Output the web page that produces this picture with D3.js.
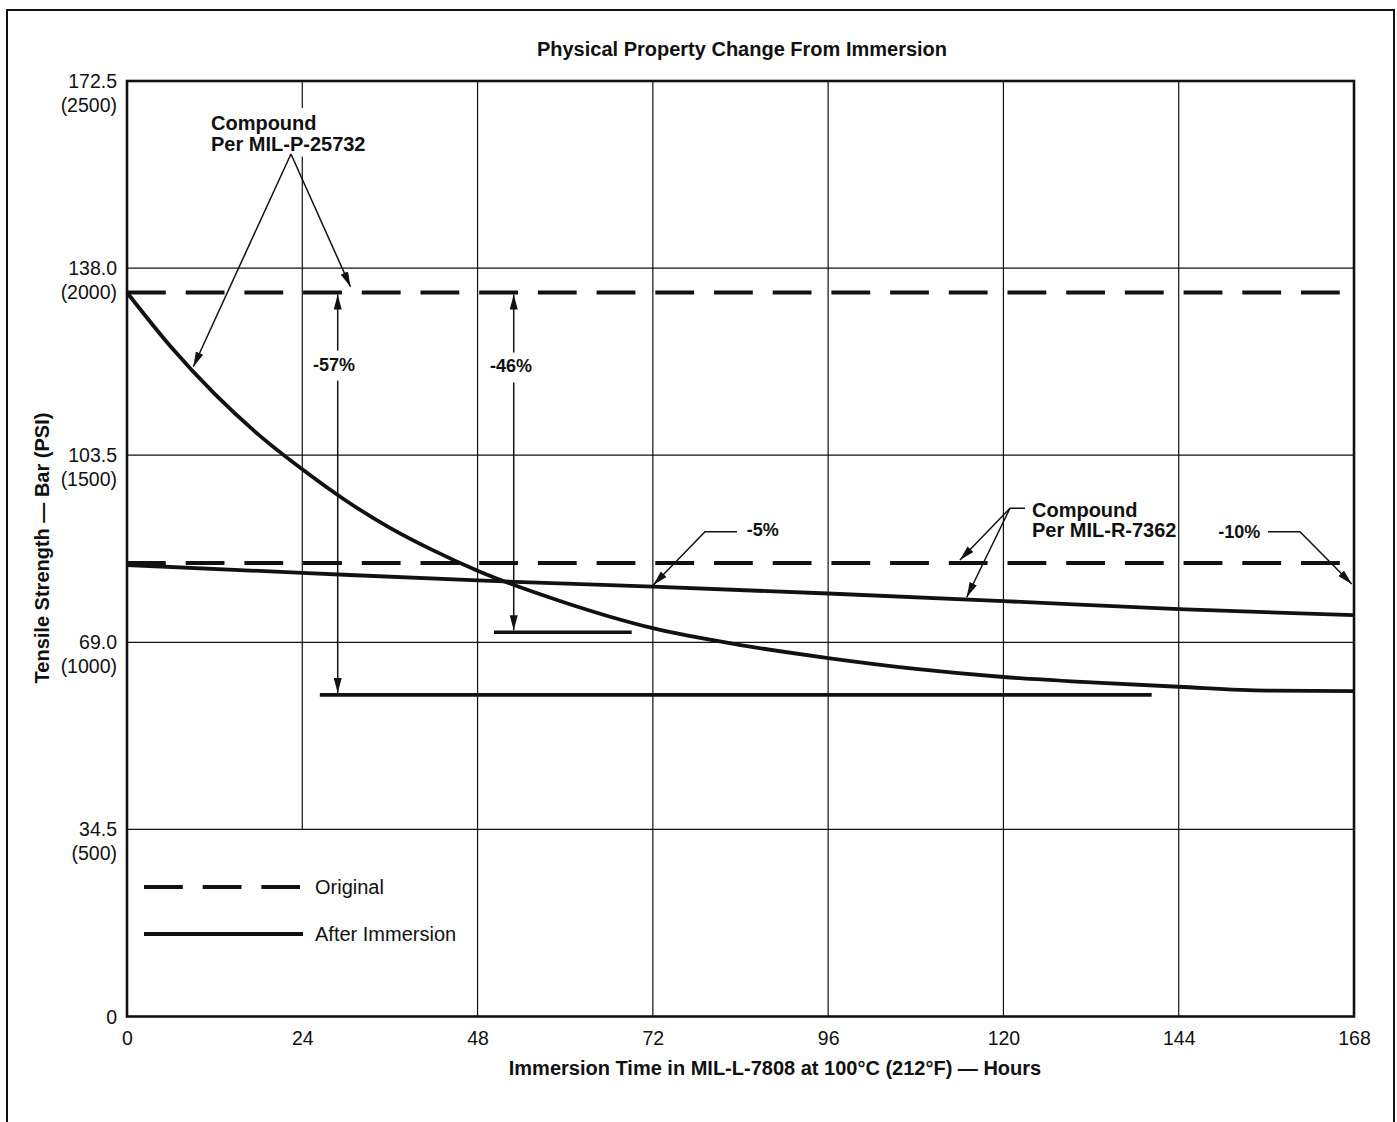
<!DOCTYPE html>
<html>
<head>
<meta charset="utf-8">
<script src="https://cdn.jsdelivr.net/npm/d3@7"></script>
<style>
  body { margin: 0; background: #fff; }
  text { font-family: "Liberation Sans", Arial, Helvetica, sans-serif; fill: #111; }
</style>
</head>
<body>
<div id="container"></div>
<script>
// values (hours, bar)
var hours = [0, 6, 12, 18, 24, 30, 36, 42, 48, 60, 72, 84, 96, 108, 120, 132, 144, 156, 168]
var p25732After = [133.5, 123.5, 114.8, 107.3, 100.9, 95.1, 90.1, 85.9, 82.2, 76.3, 71.6, 68.5, 66.1, 64.1, 62.6, 61.6, 60.8, 60.1, 60.0]
var r7362Hours = [0, 24, 48, 72, 96, 120, 144, 168]
var r7362After = [83.25, 81.8, 80.4, 79.25, 78.0, 76.6, 75.1, 74.0]
var originalValues = [133.5, 83.6]
var originalEnd = 166.2

// horizontal marks for the after-immersion levels: [value, fromHour, toHour]
var levelMarks = [[59.3, 26.4, 140.3], [70.85, 50.25, 69.1]]
// double arrows: [hour, top value, bottom value, label, label hour, label value]
var dropArrows = [[28.85, 133.5, 59.3, '-57%', 28.34, 119.1], [52.95, 133.5, 70.85, '-46%', 52.58, 118.75]]

var xTicks = [0, 24, 48, 72, 96, 120, 144, 168]
var yTicks = [0, 34.5, 69.0, 103.5, 138.0, 172.5]
var psiLabels = ['', '(500)', '(1000)', '(1500)', '(2000)', '(2500)']

var width = 1397, height = 1122

var svg = d3.select('#container').append('svg')
  .attr('width', width)
  .attr('height', height)

var x = d3.scaleLinear().domain([0, 168]).range([127, 1354])
var y = d3.scaleLinear().domain([0, 172.5]).range([1016.5, 81])

// outer frame (open at the bottom)
svg.append('path')
  .attr('d', 'M7,' + height + 'V10H1394V' + height)
  .attr('fill', 'none')
  .attr('stroke', '#111')
  .attr('stroke-width', 2)

var defs = svg.append('defs')
defs.append('marker')
  .attr('id', 'arrow')
  .attr('viewBox', '0 0 15 8')
  .attr('markerUnits', 'userSpaceOnUse')
  .attr('markerWidth', 15)
  .attr('markerHeight', 8)
  .attr('refX', 15)
  .attr('refY', 4)
  .attr('orient', 'auto-start-reverse')
  .append('path')
  .attr('d', 'M0,0L15,4L0,8Z')
  .attr('fill', '#111')

// grid
svg.append('g')
  .selectAll('line')
  .data(xTicks.slice(1, -1))
  .enter()
  .append('line')
  .attr('x1', d => x(d))
  .attr('x2', d => x(d))
  .attr('y1', y(172.5))
  .attr('y2', d => d == 24 ? y(34.5) : y(0))   // legend area cuts the 24h line
  .attr('stroke', '#111')
  .attr('stroke-width', 1.2)

svg.append('g')
  .selectAll('line')
  .data(yTicks.slice(1, -1))
  .enter()
  .append('line')
  .attr('x1', x(0))
  .attr('x2', x(168))
  .attr('y1', d => y(d))
  .attr('y2', d => y(d))
  .attr('stroke', '#111')
  .attr('stroke-width', 1.2)

// white boxes behind labels that sit on lines
var bgLayer = svg.append('g')

// originals (dashed)
svg.append('g')
  .selectAll('line')
  .data(originalValues)
  .enter()
  .append('line')
  .attr('x1', x(0))
  .attr('x2', x(originalEnd))
  .attr('y1', d => y(d))
  .attr('y2', d => y(d))
  .attr('stroke', '#111')
  .attr('stroke-width', 4)
  .attr('stroke-dasharray', '38.8,19.9')

var line = d3.line()
  .x(d => x(d[0]))
  .y(d => y(d[1]))
  .curve(d3.curveMonotoneX)

svg.append('path')
  .datum(hours.map((h, i) => [h, p25732After[i]]))
  .attr('d', line)
  .attr('fill', 'none')
  .attr('stroke', '#111')
  .attr('stroke-width', 3.8)

svg.append('path')
  .datum(r7362Hours.map((h, i) => [h, r7362After[i]]))
  .attr('d', line)
  .attr('fill', 'none')
  .attr('stroke', '#111')
  .attr('stroke-width', 3.8)

svg.append('g')
  .selectAll('line')
  .data(levelMarks)
  .enter()
  .append('line')
  .attr('x1', d => x(d[1]))
  .attr('x2', d => x(d[2]))
  .attr('y1', d => y(d[0]))
  .attr('y2', d => y(d[0]))
  .attr('stroke', '#111')
  .attr('stroke-width', 3.6)

// drop arrows
var drops = svg.append('g').selectAll('g')
  .data(dropArrows)
  .enter()
  .append('g')

drops.append('line')
  .attr('x1', d => x(d[0]))
  .attr('x2', d => x(d[0]))
  .attr('y1', d => y(d[1]) + 2)
  .attr('y2', d => y(d[2]) - 2)
  .attr('stroke', '#111')
  .attr('stroke-width', 1.5)
  .attr('marker-start', 'url(#arrow)')
  .attr('marker-end', 'url(#arrow)')

drops.append('text')
  .attr('x', d => x(d[4]))
  .attr('y', d => y(d[5]))
  .attr('text-anchor', 'middle')
  .style('font-size', '18px')
  .style('font-weight', 'bold')
  .text(d => d[3])

// leaders: points in (hour, bar), last point is the arrow tip
var leaders = [
  [[22.45, 159.04], [9.08, 119.82]],
  [[22.45, 159.04], [30.6, 134.57]],
  [[83.52, 89.39], [79.14, 89.39], [72.06, 79.57]],
  [[122.95, 93.71], [120.9, 93.71], [114.05, 84.18]],
  [[120.9, 93.71], [114.97, 77.3]],
  [[156.22, 89.39], [160.6, 89.39], [167.69, 79.75]]
]
var leaderLine = d3.line().x(d => x(d[0])).y(d => y(d[1]))

svg.append('g')
  .selectAll('path')
  .data(leaders)
  .enter()
  .append('path')
  .attr('d', leaderLine)
  .attr('fill', 'none')
  .attr('stroke', '#111')
  .attr('stroke-width', 1.5)
  .attr('marker-end', 'url(#arrow)')

// annotation texts: [lines, hour, bar, size]
var notes = [
  [['Compound', 'Per MIL-P-25732'], 11.5, 163.46, 20],
  [['Compound', 'Per MIL-R-7362'], 123.91, 92.16, 20],
  [['-5%'], 84.85, 88.51, 18],
  [['-10%'], 149.42, 88.29, 18]
]

var noteText = svg.append('g')
  .selectAll('text')
  .data(notes)
  .enter()
  .append('text')
  .attr('x', d => x(d[1]))
  .attr('y', d => y(d[2]))
  .style('font-size', d => d[3] + 'px')
  .style('font-weight', 'bold')

noteText.selectAll('tspan')
  .data(d => d[0].map(t => [t, d[1]]))
  .enter()
  .append('tspan')
  .attr('x', d => x(d[1]))
  .attr('dy', (d, i) => i == 0 ? 0 : 20.7)
  .text(d => d[0])

// white backgrounds for the MIL-P label and the percentage labels
noteText.filter((d, i) => i == 0).each(function(){
  var b = this.getBBox()
  bgLayer.append('rect')
    .attr('x', b.x - 3).attr('y', b.y - 4)
    .attr('width', b.width + 6).attr('height', b.height + 6)
    .attr('fill', '#fff')
})
drops.select('text').each(function(){
  var b = this.getBBox()
  d3.select(this.parentNode).insert('rect', 'text')
    .attr('x', b.x - 2).attr('y', b.y - 4)
    .attr('width', b.width + 4).attr('height', b.height + 10)
    .attr('fill', '#fff')
})

// plot frame
svg.append('rect')
  .attr('x', x(0))
  .attr('y', y(172.5))
  .attr('width', x(168) - x(0))
  .attr('height', y(0) - y(172.5))
  .attr('fill', 'none')
  .attr('stroke', '#111')
  .attr('stroke-width', 2.6)

// x axis
var xAxis = svg.append('g')
  .attr('transform', 'translate(0,' + y(0) + ')')
  .call(d3.axisBottom(x).tickValues(xTicks).tickSize(0).tickFormat(d3.format('d')))
xAxis.select('.domain').remove()
xAxis.selectAll('text')
  .attr('y', 28.5)
  .attr('dy', 0)
  .attr('fill', '#111')
  .style('font-size', '19.5px')
  .style('font-family', '"Liberation Sans", Arial, Helvetica, sans-serif')

// y axis, two-line labels: bar and (psi)
var yLab = svg.append('g')
  .selectAll('text')
  .data(yTicks)
  .enter()
  .append('text')
  .attr('text-anchor', 'end')
  .style('font-size', '19.5px')

yLab.append('tspan')
  .attr('x', 117)
  .attr('y', d => y(d) + 7)
  .text(d => d == 0 ? '0' : d3.format('.1f')(d))
yLab.append('tspan')
  .attr('x', 117)
  .attr('y', d => y(d) + 31)
  .text((d, i) => psiLabels[i])

// titles
svg.append('text')
  .attr('x', 742)
  .attr('y', 56)
  .attr('text-anchor', 'middle')
  .style('font-size', '20px')
  .style('font-weight', 'bold')
  .text('Physical Property Change From Immersion')

svg.append('text')
  .attr('x', 775)
  .attr('y', 1075)
  .attr('text-anchor', 'middle')
  .style('font-size', '20px')
  .style('font-weight', 'bold')
  .text('Immersion Time in MIL-L-7808 at 100°C (212°F) — Hours')

svg.append('text')
  .attr('transform', 'translate(49,548) rotate(-90)')
  .attr('text-anchor', 'middle')
  .style('font-size', '20px')
  .style('font-weight', 'bold')
  .text('Tensile Strength — Bar (PSI)')

// legend
var legendItems = [['Original', '38.8,19.9'], ['After Immersion', null]]
var legend = svg.append('g')
  .selectAll('g')
  .data(legendItems)
  .enter()
  .append('g')
  .attr('transform', (d, i) => 'translate(144,' + (887 + i * 47) + ')')

legend.append('line')
  .attr('x1', 0)
  .attr('x2', (d, i) => i == 0 ? 156 : 159)
  .attr('stroke', '#111')
  .attr('stroke-width', 4)
  .attr('stroke-dasharray', d => d[1])

legend.append('text')
  .attr('x', 171)
  .attr('y', 7)
  .style('font-size', '20px')
  .text(d => d[0])
</script>
</body>
</html>
